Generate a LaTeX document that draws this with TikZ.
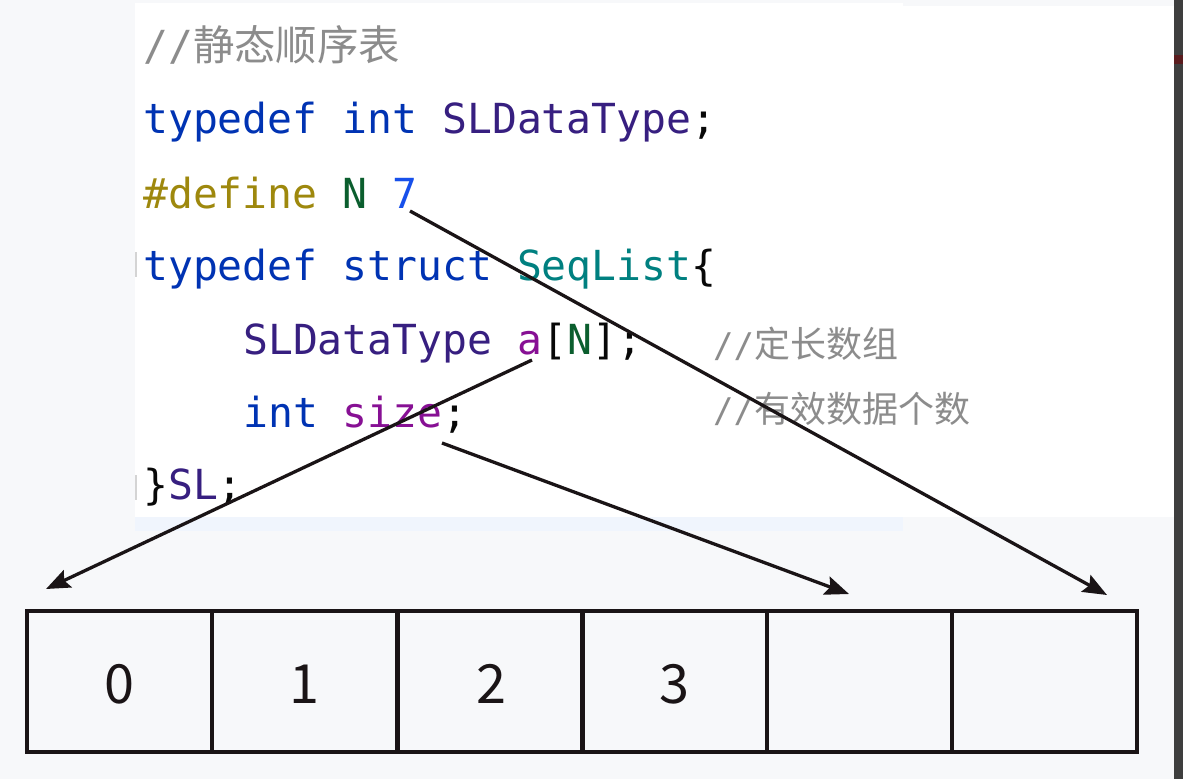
\documentclass[tikz,border=0pt]{standalone}
\usepackage{fontspec}
\setmonofont{DejaVu Sans Mono}
\newfontfamily\cjk{Noto Sans CJK SC}
\newfontfamily\digitfont{Noto Sans CJK SC}
\usetikzlibrary{arrows.meta}
\definecolor{bgc}{HTML}{F7F8FA}
\definecolor{stripc}{HTML}{F0F5FD}
\definecolor{darkc}{HTML}{3E3E3E}
\definecolor{redc}{HTML}{5A1C1E}
\definecolor{kw}{HTML}{0033B3}
\definecolor{macro}{HTML}{9E880D}
\definecolor{mname}{HTML}{0B5E2E}
\definecolor{numc}{HTML}{1750EB}
\definecolor{tname}{HTML}{371F80}
\definecolor{sname}{HTML}{008080}
\definecolor{field}{HTML}{871094}
\definecolor{cmt}{HTML}{8C8C8C}
\definecolor{punct}{HTML}{080808}
\definecolor{ink}{HTML}{1A1416}
\definecolor{gutter}{HTML}{D4D4D4}
\begin{document}
\begin{tikzpicture}[x=1pt,y=-1pt,
  codeline/.style={anchor=base west, inner sep=0pt, text=punct,
    font=\fontsize{41.4}{41.4}\selectfont\ttfamily},
  cmtline/.style={anchor=base west, inner sep=0pt, text=cmt},
  cell/.style={draw=ink, line width=3.5pt, minimum width=185pt, minimum height=141pt,
    inner sep=0pt, text=ink, text height=44pt, text depth=0pt,
    font=\fontsize{54}{54}\selectfont\digitfont},
  ptr/.style={draw=ink, line width=3.3pt, -{Stealth[length=24pt,width=19pt,inset=4pt]}}]
\useasboundingbox (0,0) rectangle (1183,779);
\fill[bgc] (0,0) rectangle (1183,779);
\fill[white] (135,3) rectangle (903,517);
\fill[white] (903,6) rectangle (1174,517);
\fill[stripc] (135,517) rectangle (903,531);
\fill[darkc] (1174,0) rectangle (1183,779);
\fill[redc] (1174,55) rectangle (1183,64);
\draw[gutter, line width=2pt] (136,252) -- (136,277);
\draw[gutter, line width=2pt] (136,475) -- (136,500);

% code
\node[codeline, text=cmt] (l1) at (143,60) {//{\cjk 静态顺序表}};
\node[codeline] (l2) at (143,133) {\textcolor{kw}{typedef int} \textcolor{tname}{SLDataType};};
\node[codeline] (l3) at (143,208) {\textcolor{macro}{\#define} \textcolor{mname}{N} \textcolor{numc}{7}};
\node[codeline] (l4) at (143,280) {\textcolor{kw}{typedef struct} \textcolor{sname}{SeqList}\{};
\node[codeline] (l5) at (243,354) {\textcolor{tname}{SLDataType} \textcolor{field}{a}[\textcolor{mname}{N}];};
\node[codeline] (l6) at (243,427) {\textcolor{kw}{int} \textcolor{field}{size};};
\node[codeline] (l7) at (143,499) {\}\textcolor{tname}{SL};};
\node[cmtline] (c5) at (713,357) {{\fontsize{34}{34}\selectfont\ttfamily //}{\fontsize{36}{36}\selectfont\cjk 定长数组}};
\node[cmtline] (c6) at (713,422) {{\fontsize{34}{34}\selectfont\ttfamily //}{\fontsize{36}{36}\selectfont\cjk 有效数据个数}};

% array
\node[cell] (a0) at (119.5,681.5) {0};
\node[cell] (a1) at (304.5,681.5) {1};
\node[cell] (a2) at (491,681.5) {2};
\node[cell] (a3) at (674.5,681.5) {3};
\node[cell] (a4) at (859.5,681.5) {};
\node[cell] (a5) at (1044.5,681.5) {};

% pointers
\coordinate (aStart) at (532,360);
\coordinate (sizeStart) at (442,443);
\coordinate (nStart) at (410,211);
\coordinate (tip0) at (46,589);
\coordinate (tip4) at (849,594);
\coordinate (tip6) at (1107,595);
\draw[ptr] (aStart) -- (tip0);
\draw[ptr] (sizeStart) -- (tip4);
\draw[ptr] (nStart) -- (tip6);
\end{tikzpicture}
\end{document}
